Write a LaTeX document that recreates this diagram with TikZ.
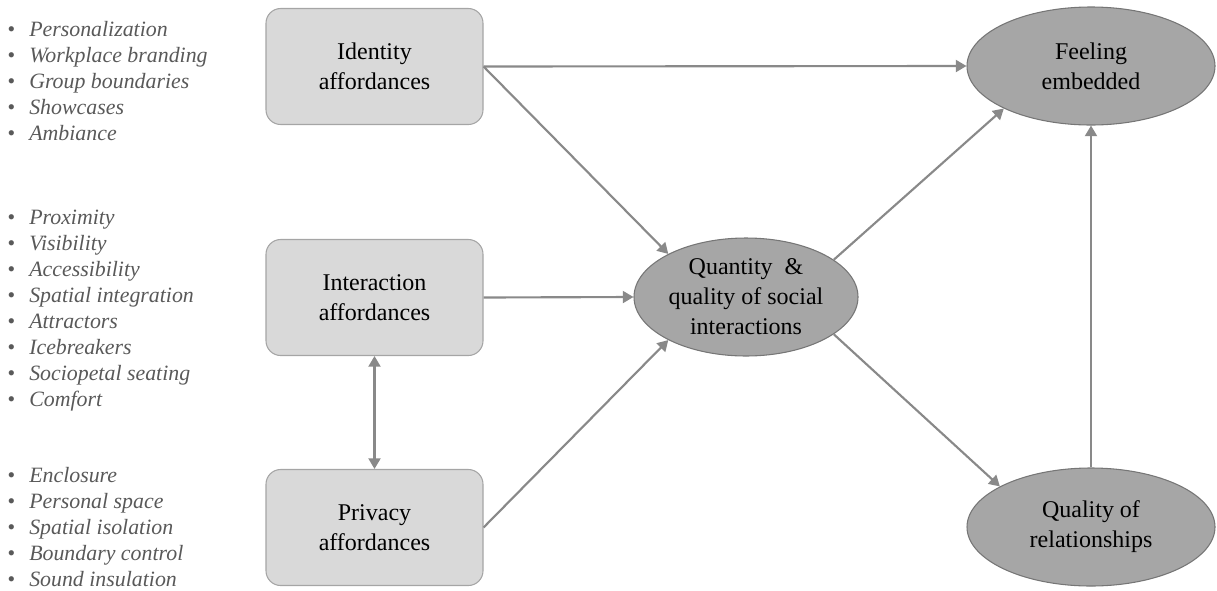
\documentclass[tikz,border=0pt]{standalone}
\usepackage{fontspec}
\setmainfont{Liberation Serif}
\usetikzlibrary{arrows.meta,shapes.geometric,positioning}
\definecolor{boxgray}{RGB}{217,217,217}
\definecolor{boxline}{RGB}{165,165,165}
\definecolor{ovalgray}{RGB}{166,166,166}
\definecolor{ovalline}{RGB}{118,118,118}
\definecolor{arrowgray}{RGB}{137,137,137}
\definecolor{listgray}{RGB}{89,89,89}
\tikzset{
    affbox/.style={draw=boxline, fill=boxgray, line width=0.8pt, rounded corners=11pt,
        minimum width=162.75pt, minimum height=87pt, inner sep=0pt, align=center,
        font=\fontsize{18}{22.5}\selectfont},
    outcome/.style={ellipse, draw=ovalline, fill=ovalgray, line width=0.8pt, inner sep=0pt,
        minimum height=88.5pt, align=center, font=\fontsize{18}{22.5}\selectfont},
    link/.style={draw=arrowgray, line width=1.6pt, -{Triangle[length=8pt,width=9pt]}},
    featlist/.style={anchor=west, align=left, inner sep=0pt, text=listgray,
        font=\fontsize{16.4}{19.5}\selectfont\itshape}
}
\newcommand{\feat}[1]{\makebox[16.5pt][l]{\textbullet}#1}

\begin{document}
\begin{tikzpicture}[x=0.75pt, y=-0.75pt]
    \useasboundingbox (0,0) rectangle (1217,590);
    % feature lists
    \node[featlist] (idlist) at (7,81) {\feat{Personalization}\\\feat{Workplace branding}\\
        \feat{Group boundaries}\\\feat{Showcases}\\\feat{Ambiance}};
    \node[featlist] (ialist) at (7,311) {\feat{Proximity}\\\feat{Visibility}\\
        \feat{Accessibility}\\\feat{Spatial integration}\\\feat{Attractors}\\
        \feat{Icebreakers}\\\feat{Sociopetal seating}\\\feat{Comfort}};
    \node[featlist] (palist) at (7,527) {\feat{Enclosure}\\\feat{Personal space}\\
        \feat{Spatial isolation}\\\feat{Boundary control}\\\feat{Sound insulation}};
    % affordances
    \node[affbox] (ida) at (374.5,66.5) {Identity\\affordances};
    \node[affbox] (iaa) at (374.5,297.5) {Interaction\\affordances};
    \node[affbox] (paa) at (374.5,527.5) {Privacy\\affordances};
    % outcomes
    \node[outcome, minimum width=168pt] (qsi) at (746,297) {Quantity \ \&\\quality of social\\interactions};
    \node[outcome, minimum width=186pt] (emb) at (1091,66) {Feeling\\embedded};
    \node[outcome, minimum width=186pt] (rel) at (1091,527) {Quality of\\relationships};
    \draw[link] (ida.east) -- (emb.west);
    \draw[link] (ida.east) -- (qsi.151);
    \draw[link] (iaa.east) -- (qsi.west);
    \draw[link] (paa.east) -- (qsi.209);
    \draw[link, {Triangle[length=8pt,width=9pt]}-{Triangle[length=8pt,width=9pt]}] (iaa.south) -- (paa.north);
    \draw[link] (qsi.23) -- (emb.206);
    \draw[link] (qsi.337) -- (rel.156);
    \draw[link] (rel.north) -- (emb.south);
\end{tikzpicture}
\end{document}
